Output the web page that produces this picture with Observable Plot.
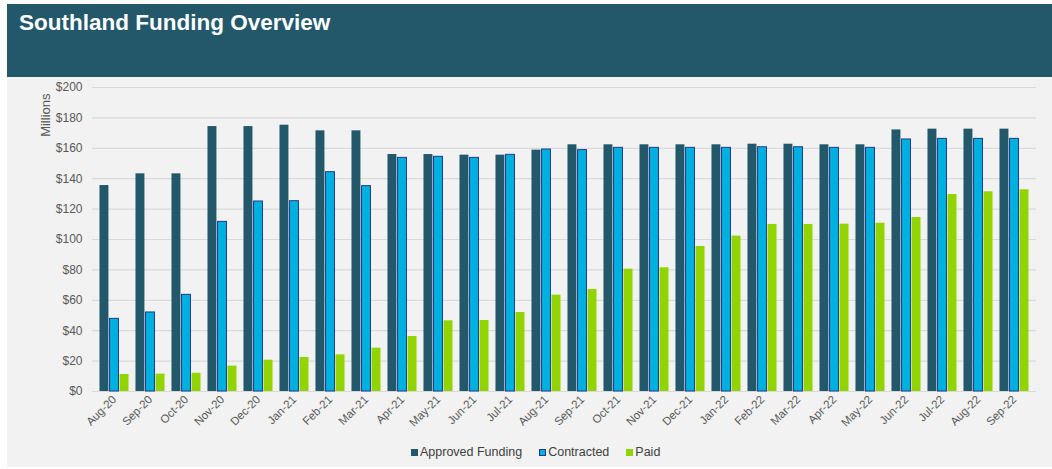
<!DOCTYPE html>
<html>
<head>
<meta charset="utf-8">
<script src="https://cdn.jsdelivr.net/npm/d3@7"></script>
<script src="https://cdn.jsdelivr.net/npm/@observablehq/plot@0.6"></script>
<style>
  html, body { margin: 0; padding: 0; background: #ffffff; }
  body { width: 1052px; height: 469px; overflow: hidden; position: relative; font-family: "Liberation Sans", Arial, sans-serif; }
  #frame { position: absolute; left: 7px; top: 4px; width: 1045px; height: 463px; background: #f2f2f2; }
  #header { position: absolute; left: 0; top: 0; width: 1045px; height: 73px; background: #22586a; }
  #title { position: absolute; left: 12px; top: 6px; color: #ffffff; font-weight: bold; font-size: 22.5px; }
  #chart { position: absolute; left: 0; top: 73px; }
  #legend { position: absolute; left: 404px; top: 441px; font-size: 12.5px; color: #404040; display: flex; align-items: center; white-space: nowrap; }
  .item { display: flex; align-items: center; margin-right: 17px; }
  .sw { width: 7px; height: 7px; margin-right: 2px; box-sizing: border-box; }
</style>
</head>
<body>
<div id="frame">
  <div id="header"><div id="title">Southland Funding Overview</div></div>
  <div id="chart"></div>
  <div id="legend"></div>
</div>
<script>
const months = ["Aug-20","Sep-20","Oct-20","Nov-20","Dec-20","Jan-21","Feb-21","Mar-21","Apr-21","May-21","Jun-21","Jul-21","Aug-21","Sep-21","Oct-21","Nov-21","Dec-21","Jan-22","Feb-22","Mar-22","Apr-22","May-22","Jun-22","Jul-22","Aug-22","Sep-22"];
const approved = [135.5,143.2,143.2,174.3,174.3,175.2,171.5,171.5,155.9,155.9,155.5,155.5,158.8,162.3,162.3,162.3,162.3,162.3,162.7,162.7,162.3,162.3,172.1,172.6,172.6,172.6];
const contracted = [47.8,52.0,63.6,111.6,125.0,125.2,144.3,135.1,153.7,154.4,153.7,155.7,159.2,158.8,160.3,160.3,160.3,160.3,160.7,160.7,160.3,160.3,165.8,166.2,166.2,166.2];
const paid = [11.2,11.4,12.0,16.7,20.6,22.4,24.1,28.5,36.2,46.5,46.7,52.0,63.4,67.1,80.5,81.4,95.4,102.2,109.9,109.9,110.1,110.7,114.5,129.6,131.4,132.7];
const seriesNames = ["Approved Funding","Contracted","Paid"];
const seriesValues = [approved, contracted, paid];
const seriesColors = ["#22586a","#00b0e0","#92d400"];
const seriesStrokes = [null,"#233a8c",null];
const yTicks = [0,20,40,60,80,100,120,140,160,180,200];

const width = 1045, height = 362;
const mL = 85, mR = 16, mT = 10, mB = 48;
const step = (width - mL - mR) / months.length;
const outer = step * 0.085;
const slot = (step - 2 * outer) / 3;

const barMarks = seriesValues.map((vals, k) => Plot.barY(months, {
  x: d => d,
  y: (d, i) => vals[i],
  fill: seriesColors[k],
  stroke: seriesStrokes[k] || undefined,
  strokeWidth: seriesStrokes[k] ? 1 : undefined,
  insetLeft: outer + k * slot + 0.4,
  insetRight: step - (outer + (k + 1) * slot) + 0.4
}));

const chart = Plot.plot({
  width, height,
  marginLeft: mL, marginRight: mR, marginTop: mT, marginBottom: mB,
  style: { background: "transparent", fontFamily: "'Liberation Sans', Arial, sans-serif", color: "#595959" },
  x: { type: "band", domain: months, padding: 0 },
  y: { domain: [0, 200] },
  marks: [
    Plot.ruleY(yTicks, { stroke: "#d9d9d9", strokeWidth: 1.2 }),
    ...barMarks,
    Plot.axisY({ ticks: yTicks, tickSize: 0, tickPadding: 10, tickFormat: d => "$" + d, fontSize: 12, fill: "#595959", label: null }),
    Plot.axisX({ tickSize: 0, tickPadding: 6, tickRotate: -45, fontSize: 11.5, fill: "#595959", label: null }),
    Plot.text(["Millions"], { frameAnchor: "top-left", rotate: -90, textAnchor: "end", dx: -52, dy: 6, fontSize: 13, fill: "#595959" })
  ]
});
document.getElementById("chart").appendChild(chart);

const legend = document.getElementById("legend");
seriesNames.forEach((name, k) => {
  const item = document.createElement("div");
  item.className = "item";
  const sw = document.createElement("div");
  sw.className = "sw";
  sw.style.background = seriesColors[k];
  if (seriesStrokes[k]) sw.style.border = "1px solid " + seriesStrokes[k];
  const t = document.createElement("span");
  t.textContent = name;
  item.appendChild(sw); item.appendChild(t);
  legend.appendChild(item);
});
</script>
</body>
</html>
